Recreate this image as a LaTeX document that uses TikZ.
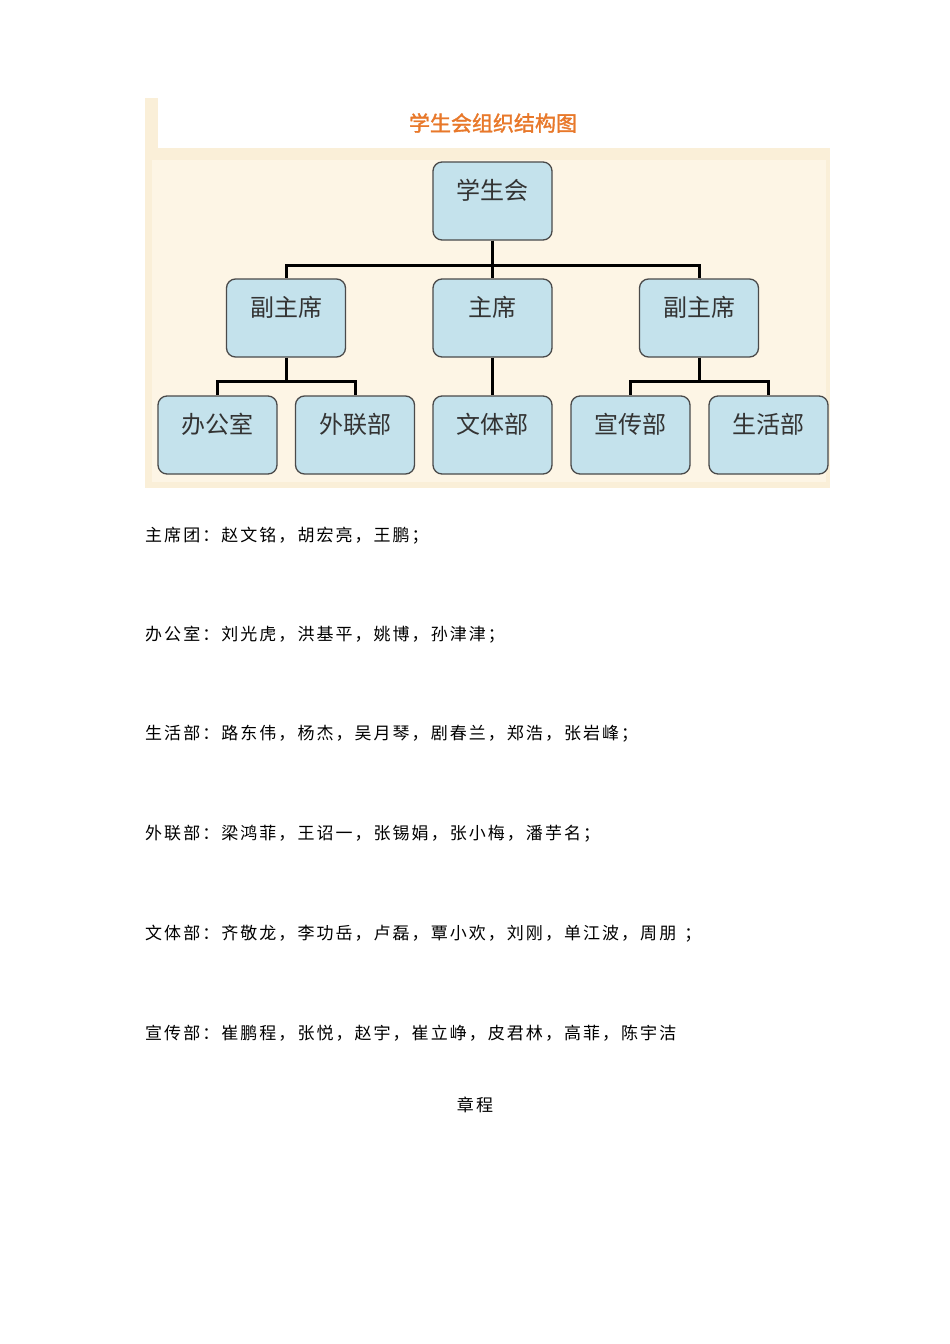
\documentclass[tikz,border=0pt]{standalone}
\usepackage{fontspec}
\newfontfamily\cjk{Noto Sans CJK SC}
\newfontfamily\cjkbody[LetterSpace=12]{Noto Sans CJK SC}
\newfontfamily\cjkbold[FakeBold=1.6]{Noto Sans CJK SC}
\definecolor{panelout}{HTML}{FAEFD8}
\definecolor{panelin}{HTML}{FDF5E5}
\definecolor{boxfill}{HTML}{C4E2EC}
\definecolor{boxline}{HTML}{4A4A4A}
\definecolor{titleorange}{HTML}{E8782A}
\definecolor{boxtext}{HTML}{333333}
\tikzset{
  orgbox/.style={draw=boxline, line width=1.3pt, fill=boxfill, rounded corners=9pt,
    minimum width=119pt, inner sep=0pt, text height=37pt, text depth=41pt,
    font=\cjk\fontsize{24}{24}\selectfont, text=boxtext},
  link/.style={line width=3pt, black},
  bodytext/.style={anchor=west, inner sep=0pt, font=\cjkbody\fontsize{17}{17}\selectfont, text=black},
}
\begin{document}
\begin{tikzpicture}[x=1pt,y=-1pt]
\useasboundingbox (0,0) rectangle (950,1344);
% panel
\fill[panelout] (145,98) rectangle (830,488);
\fill[white] (158,98) rectangle (832,148);
\fill[panelin] (152,160) rectangle (826,482);
\node[inner sep=0pt, font=\cjkbold\fontsize{21}{21}\selectfont, text=titleorange] (title) at (493,123) {学生会组织结构图};
% boxes
\node[orgbox] (root) at (492.5,201) {学生会};
\node[orgbox] (vl) at (286,318) {副主席};
\node[orgbox] (zx) at (492.5,318) {主席};
\node[orgbox] (vr) at (699,318) {副主席};
\node[orgbox] (bgs) at (217.5,435) {办公室};
\node[orgbox] (wlb) at (355,435) {外联部};
\node[orgbox] (wtb) at (492.5,435) {文体部};
\node[orgbox] (xcb) at (630.5,435) {宣传部};
\node[orgbox] (shb) at (768.5,435) {生活部};
% connectors
\draw[link] (root.south) -- ++(0,25) coordinate (b1);
\draw[link] (b1) -| (vl.north);
\draw[link] (b1) -| (vr.north);
\draw[link] (root.south) -- (zx.north);
\draw[link] (vl.south) -- ++(0,24) coordinate (b2);
\draw[link] (b2) -| (bgs.north);
\draw[link] (b2) -| (wlb.north);
\draw[link] (zx.south) -- (wtb.north);
\draw[link] (vr.south) -- ++(0,24) coordinate (b3);
\draw[link] (b3) -| (xcb.north);
\draw[link] (b3) -| (shb.north);
% text lines
\node[bodytext] (t1) at (145,536) {主席团：赵文铭，胡宏亮，王鹏；};
\node[bodytext] (t2) at (145,635) {办公室：刘光虎，洪基平，姚博，孙津津；};
\node[bodytext] (t3) at (145,734) {生活部：路东伟，杨杰，吴月琴，剧春兰，郑浩，张岩峰；};
\node[bodytext] (t4) at (145,834) {外联部：梁鸿菲，王诏一，张锡娟，张小梅，潘芋名；};
\node[bodytext] (t5) at (145,934) {文体部：齐敬龙，李功岳，卢磊，覃小欢，刘刚，单江波，周朋\hspace{8pt}；};
\node[bodytext] (t6) at (145,1033) {宣传部：崔鹏程，张悦，赵宇，崔立峥，皮君林，高菲，陈宇洁};
\node[bodytext, anchor=center] (t7) at (475,1105) {章程};
\end{tikzpicture}
\end{document}
